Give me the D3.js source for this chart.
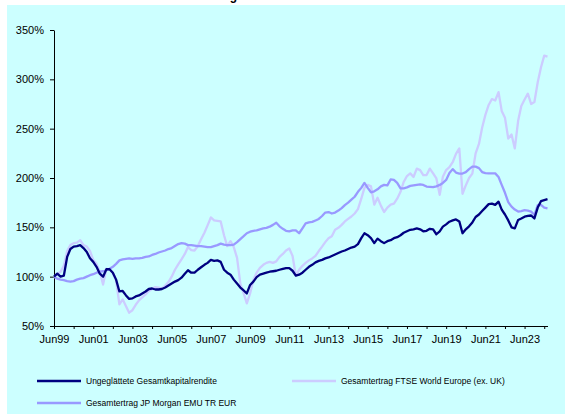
<!DOCTYPE html>
<html>
<head>
<meta charset="utf-8">
<script src="https://cdn.jsdelivr.net/npm/d3@7"></script>
<style>
  body { margin: 0; background: #fff; }
  text { font-family: Arial, "Liberation Sans", sans-serif; }
  .axis text { font-size: 11px; fill: #000; }
  .axis path, .axis line { stroke: #000; }
  .legend text { font-size: 8.5px; fill: #000; }
</style>
</head>
<body>
<svg id="chart" width="565" height="414"></svg>
<script>
// bimonthly values, Jun99 .. Aug24 (index 100 = start)
var unsmoothed = [100,103,100,101,120,128,130.5,131,132,129,125,118.6,115,110,103,100,107.5,107.5,104,97,
  85,85.5,81,77.5,78,80,81,83,85,87.5,88,87,87,87.5,89,91,93,95,96.5,99,
  103,106.5,104,104,107,109.5,112,114,117,116,116.5,115,107,104,102,97,93,89,86,83,
  91.6,95,99.5,102,103,104,105,105.5,106,107,108,108.7,108.7,106,101,102,104,107,110,112,
  114.5,116,117,118.5,119.5,121,122.5,124,125.5,126.5,128,129.5,130.5,133,139,144,142,139,134,138.5,
  136,134,136,137,139,140,142,144.5,146,147.5,148,149,148,146,146.5,148.5,148,143,146,150.7,
  153,155.7,157,158,156,144,148,151,155,160.5,163,166.5,170,173.5,174,172.7,176,168,163,157,
  150,149,157.5,159,160.8,161.5,162,159,170,176.5,177.5,178.5];

var ftse = [100,102.5,105,111,126,132,134,134.5,137,132,130.5,126,117,113,105,92,108,107,104,96,
  72,77,70,63.5,66,71.5,76,79,82,85.5,87.5,89.5,89,88,91,94.5,100,107,112.5,117.5,
  123,130,127,126.5,131,138,144.5,152,160,157,156.5,156,142,131,136,130,119,93,83,73,
  83,96.6,104,109,112,114,115,114,115.5,120,123,126.5,128.5,121,101,107,111,114,116.5,118.5,
  121,126,130.5,135,139,141,147.5,149.5,152.5,156,158.5,161,164,168.5,179,190,193,191.5,173,180,
  172,165.5,170,173,174,179,186,196,202,204.7,201,209.5,208,203,203,209.5,204.7,199.5,183,201.3,
  208,211,216,224.5,230,184,192.5,200,204.5,225,234.5,251,264,274,280,278.5,287,268,261,240,
  244,230,258,273,279.5,285.5,275,277,297,312,324,323];

var jpMorgan = [100,98,97,96.5,95.5,95,95.5,97,98,98.5,100,101.5,102.5,104,105,105.5,106.5,108,110,113,
  116.5,117.5,118,118.5,118,118.6,118.5,119,120,120.5,122,123,124.5,125.5,126.5,128,129,131,133,134,
  133.5,132,132,131.5,131,131,130.5,130,130,131,132,133.5,132.5,132,132,132.5,135,138,141,144,
  145.6,146.5,147,148,149,149.5,150.7,152.5,154.7,151,148.5,146.5,146,147,147,144,149,154,155,155.5,
  157,158.5,161.5,165,165.5,164,165,167,169.5,172.5,175,178,181,186,190,195,190,185.5,186.5,188.5,
  191.5,193,192.5,198.5,198,195,189.5,189.5,190.5,192,192.5,193,193.5,193,191.3,191,190.7,191.5,193,195,
  198,205,209,205.5,204.5,204.5,206,209,211.5,211.5,210,206,205,204.7,204.7,204.7,201,193,185,175.5,
  171,168,166,166.5,167.5,167,166,162.5,172.5,172.7,170,169.3];

var seriesNames = ["Ungeglättete Gesamtkapitalrendite", "Gesamtertrag FTSE World Europe (ex. UK)", "Gesamtertrag JP Morgan EMU TR EUR"];
var seriesColors = ["#000080", "#CCCCFF", "#9999FF"];
var yTicks = [50, 100, 150, 200, 250, 300, 350];
var tickLabels = ["Jun99","Jun01","Jun03","Jun05","Jun07","Jun09","Jun11","Jun13","Jun15","Jun17","Jun19","Jun21","Jun23"];

var dates = unsmoothed.map((d, i) => new Date(1999, 5 + 2 * i, 1));

var svg = d3.select("#chart");

// panel background
svg.append("rect")
  .attr("x", 7).attr("y", 5)
  .attr("width", 558).attr("height", 409)
  .attr("fill", "#CCFFFF");

// title (cut off at the top of the picture)
svg.append("text")
  .attr("x", 237).attr("y", -0.5)
  .attr("text-anchor", "end")
  .style("font-size", "12px").style("font-weight", "bold")
  .text("Wertentwicklung");

var x = d3.scaleTime()
  .domain([new Date(1999, 5, 1), new Date(2024, 7, 1)])
  .range([54, 547.5]);

var y = d3.scaleLinear()
  .domain([50, 350])
  .range([326, 30]);

var tickDates = d3.range(1999, 2025).map(yr => new Date(yr, 5, 1));

svg.append("g")
  .attr("class", "axis")
  .attr("transform", "translate(0,326)")
  .call(d3.axisBottom(x)
    .tickValues(tickDates)
    .tickSize(3)
    .tickSizeOuter(0)
    .tickPadding(6)
    .tickFormat((d, i) => i % 2 == 0 ? tickLabels[i / 2] : ""));

svg.append("g")
  .attr("class", "axis")
  .attr("transform", "translate(54,0)")
  .call(d3.axisLeft(y)
    .tickValues(yTicks)
    .tickSize(4)
    .tickSizeOuter(0)
    .tickPadding(6)
    .tickFormat(d => d + "%"));

var line = d3.line()
  .x((d, i) => x(dates[i]))
  .y(d => y(d));

// draw order: FTSE, JP Morgan, unsmoothed on top
[[ftse, 1], [jpMorgan, 2], [unsmoothed, 0]].forEach(function(s) {
  svg.append("path")
    .datum(s[0])
    .attr("d", line)
    .attr("fill", "none")
    .attr("stroke", seriesColors[s[1]])
    .attr("stroke-width", 2.3)
    .attr("stroke-linejoin", "round");
});

// legend
var legendPos = [[37, 381], [292, 381], [37, 403]];
var legend = svg.append("g").attr("class", "legend");
seriesNames.forEach(function(name, i) {
  var p = legendPos[i];
  legend.append("line")
    .attr("x1", p[0]).attr("x2", p[0] + 44)
    .attr("y1", p[1]).attr("y2", p[1])
    .attr("stroke", seriesColors[i])
    .attr("stroke-width", 2.6);
  legend.append("text")
    .attr("x", p[0] + 49)
    .attr("y", p[1] + 3)
    .text(name);
});
</script>
</body>
</html>
